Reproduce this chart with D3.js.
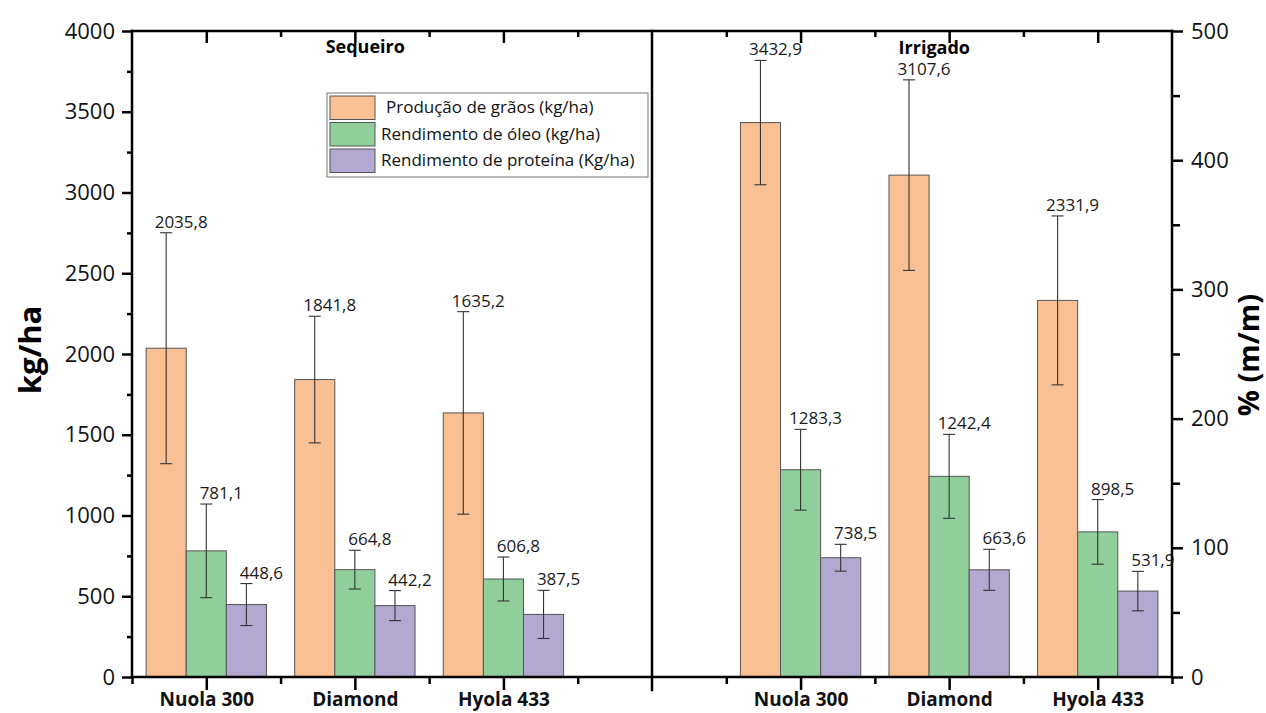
<!DOCTYPE html>
<html><head><meta charset="utf-8">
<script src="https://cdn.jsdelivr.net/npm/d3@7"></script>
<style>
html,body{margin:0;padding:0;background:#fff;}
svg{display:block;font-family:"Open Sans",sans-serif;}
</style></head>
<body>
<svg id="chart" width="1266" height="713"></svg>
<script>
// ---- data ----
const categories = ["Nuola 300", "Diamond", "Hyola 433"];
const panels = ["Sequeiro", "Irrigado"];
const seriesNames = ["Produção de grãos (kg/ha)", "Rendimento de óleo (kg/ha)", "Rendimento de proteína (Kg/ha)"];
const seqGraos = [2035.8, 1841.8, 1635.2];
const seqGraosErr = [715, 392, 627];
const seqOleo = [781.1, 664.8, 606.8];
const seqOleoErr = [290, 120, 136];
const seqProt = [448.6, 442.2, 387.5];
const seqProtErr = [130, 93, 149];
const irrGraos = [3432.9, 3107.6, 2331.9];
const irrGraosErr = [385, 590, 523];
const irrOleo = [1283.3, 1242.4, 898.5];
const irrOleoErr = [250, 260, 200];
const irrProt = [738.5, 663.6, 531.9];
const irrProtErr = [83, 127, 122];
const leftTicks = [0, 500, 1000, 1500, 2000, 2500, 3000, 3500, 4000];
const rightTicks = [0, 100, 200, 300, 400, 500];

const colors = ["#F9C193", "#90CF9B", "#B3A8D0"];

// ---- layout ----
const svg = d3.select("#chart");
const FONT = "'Open Sans', sans-serif";
const X0 = 132, X1 = 1172, Y0 = 677, Y1 = 31;
const x = d3.scaleLinear().domain([0.5, 7.5]).range([X0, X1]);
const y = d3.scaleLinear().domain([0, 4000]).range([Y0, Y1]);
const yR = d3.scaleLinear().domain([0, 500]).range([Y0, Y1]);
const barW = 0.27;
const fmt = v => d3.format(".1f")(v).replace(".", ",");

// build records
const panelData = [
  {pos: [1, 2, 3], series: [[seqGraos, seqGraosErr], [seqOleo, seqOleoErr], [seqProt, seqProtErr]]},
  {pos: [5, 6, 7], series: [[irrGraos, irrGraosErr], [irrOleo, irrOleoErr], [irrProt, irrProtErr]]}
];
const bars = [];
panelData.forEach(p => {
  p.series.forEach((s, si) => {
    s[0].forEach((v, ci) => {
      bars.push({xc: p.pos[ci] + (si - 1) * barW, v: v, e: s[1][ci], si: si});
    });
  });
});

// bars
svg.append("g").selectAll("rect").data(bars).join("rect")
  .attr("x", d => x(d.xc - barW / 2))
  .attr("width", d => x(d.xc + barW / 2) - x(d.xc - barW / 2))
  .attr("y", d => y(d.v))
  .attr("height", d => y(0) - y(d.v))
  .attr("fill", d => colors[d.si])
  .attr("stroke", "#555").attr("stroke-width", 1);

// error bars
const eg = svg.append("g").attr("stroke", "#333").attr("stroke-width", 1.1);
bars.forEach(d => {
  const cx = x(d.xc);
  eg.append("line").attr("x1", cx).attr("x2", cx).attr("y1", y(d.v + d.e)).attr("y2", y(d.v - d.e));
  eg.append("line").attr("x1", cx - 6).attr("x2", cx + 6).attr("y1", y(d.v + d.e)).attr("y2", y(d.v + d.e));
  eg.append("line").attr("x1", cx - 6).attr("x2", cx + 6).attr("y1", y(d.v - d.e)).attr("y2", y(d.v - d.e));
});

// value labels
svg.append("g").selectAll("text").data(bars).join("text")
  .attr("x", d => x(d.xc) + 15)
  .attr("y", d => y(d.v + d.e) - 5)
  .attr("text-anchor", "middle")
  .attr("font-size", 17).attr("fill", "#1a1a1a")
  .text(d => fmt(d.v));

// axes
const axW = 2.5;
function styleAxis(g) {
  g.attr("font-family", FONT);
  g.select(".domain").remove();
  g.selectAll(".tick line").attr("stroke", "#000").attr("stroke-width", axW);
  g.selectAll(".tick text").attr("fill", "#111");
}
// left axis major
const gl = svg.append("g").attr("transform", `translate(${X0},0)`)
  .call(d3.axisLeft(y).tickValues(leftTicks).tickSize(10).tickPadding(7).tickFormat(d3.format("d")));
styleAxis(gl);
gl.attr("font-size", 22);
// left minor
svg.append("g").attr("transform", `translate(${X0},0)`)
  .call(d3.axisLeft(y).tickValues(leftTicks.slice(0, -1).map(t => t + 250)).tickSize(5).tickFormat(""))
  .call(styleAxis);

// right axis
const gr = svg.append("g").attr("transform", `translate(${X1},0)`)
  .call(d3.axisRight(yR).tickValues(rightTicks).tickSize(11).tickPadding(8).tickFormat(d3.format("d")));
styleAxis(gr);
gr.attr("font-size", 22);
svg.append("g").attr("transform", `translate(${X1},0)`)
  .call(d3.axisRight(yR).tickValues(rightTicks.slice(0, -1).map(t => t + 50)).tickSize(8).tickFormat(""))
  .call(styleAxis);

// bottom axis
const catPos = [1, 2, 3, 5, 6, 7];
const catLabels = categories.concat(categories);
const gb = svg.append("g").attr("transform", `translate(0,${Y0})`)
  .call(d3.axisBottom(x).tickValues(catPos).tickSize(13).tickPadding(3).tickFormat((d, i) => catLabels[i]));
styleAxis(gb);
gb.attr("font-size", 19).attr("font-weight", "bold");
svg.append("g").attr("transform", `translate(0,${Y0})`)
  .call(d3.axisBottom(x).tickValues([0.5, 1.5, 2.5, 3.5, 4.5, 5.5, 6.5, 7.5]).tickSize(7).tickFormat(""))
  .call(styleAxis);
// top axis (inward)
svg.append("g").attr("transform", `translate(0,${Y1})`)
  .call(d3.axisBottom(x).tickValues(catPos).tickSize(12).tickFormat(""))
  .call(styleAxis);
svg.append("g").attr("transform", `translate(0,${Y1})`)
  .call(d3.axisBottom(x).tickValues([1.5, 2.5, 3.5, 4.5, 5.5, 6.5]).tickSize(6).tickFormat(""))
  .call(styleAxis);

// frame lines
const fr = svg.append("g").attr("stroke", "#000").attr("stroke-width", axW).attr("stroke-linecap", "square");
fr.append("line").attr("x1", X0).attr("x2", X0).attr("y1", Y1).attr("y2", Y0);
fr.append("line").attr("x1", X1).attr("x2", X1).attr("y1", Y1).attr("y2", Y0);
fr.append("line").attr("x1", X0).attr("x2", X1).attr("y1", Y0).attr("y2", Y0);
fr.append("line").attr("x1", X0).attr("x2", X1).attr("y1", Y1).attr("y2", Y1);
// divider
fr.append("line").attr("x1", x(4)).attr("x2", x(4)).attr("y1", Y1).attr("y2", Y0 + 13);

// panel titles
svg.append("text").attr("x", x(2.07)).attr("y", 53).attr("text-anchor", "middle")
  .attr("font-size", 18).attr("font-weight", "bold").text(panels[0]);
svg.append("text").attr("x", x(5.9)).attr("y", 54).attr("text-anchor", "middle")
  .attr("font-size", 18).attr("font-weight", "bold").text(panels[1]);

// axis titles
svg.append("text").attr("transform", "translate(41,350) rotate(-90)").attr("text-anchor", "middle")
  .attr("font-size", 31).attr("font-weight", "bold").text("kg/ha");
svg.append("text").attr("transform", "translate(1259,355) rotate(-90)").attr("text-anchor", "middle")
  .attr("font-size", 29).attr("font-weight", "bold").text("% (m/m)");

// legend
const lg = svg.append("g");
lg.append("rect").attr("x", 327).attr("y", 93).attr("width", 321).attr("height", 84)
  .attr("fill", "#fff").attr("stroke", "#777").attr("stroke-width", 1);
seriesNames.forEach((n, i) => {
  lg.append("rect").attr("x", 330).attr("y", 96 + i * 26.5).attr("width", 45).attr("height", 23.5)
    .attr("fill", colors[i]).attr("stroke", "#555").attr("stroke-width", 1);
  lg.append("text").attr("x", i === 0 ? 386 : 381).attr("y", 113 + i * 26.5)
    .attr("font-size", 17).attr("fill", "#111").text(n);
});
</script>
</body></html>
